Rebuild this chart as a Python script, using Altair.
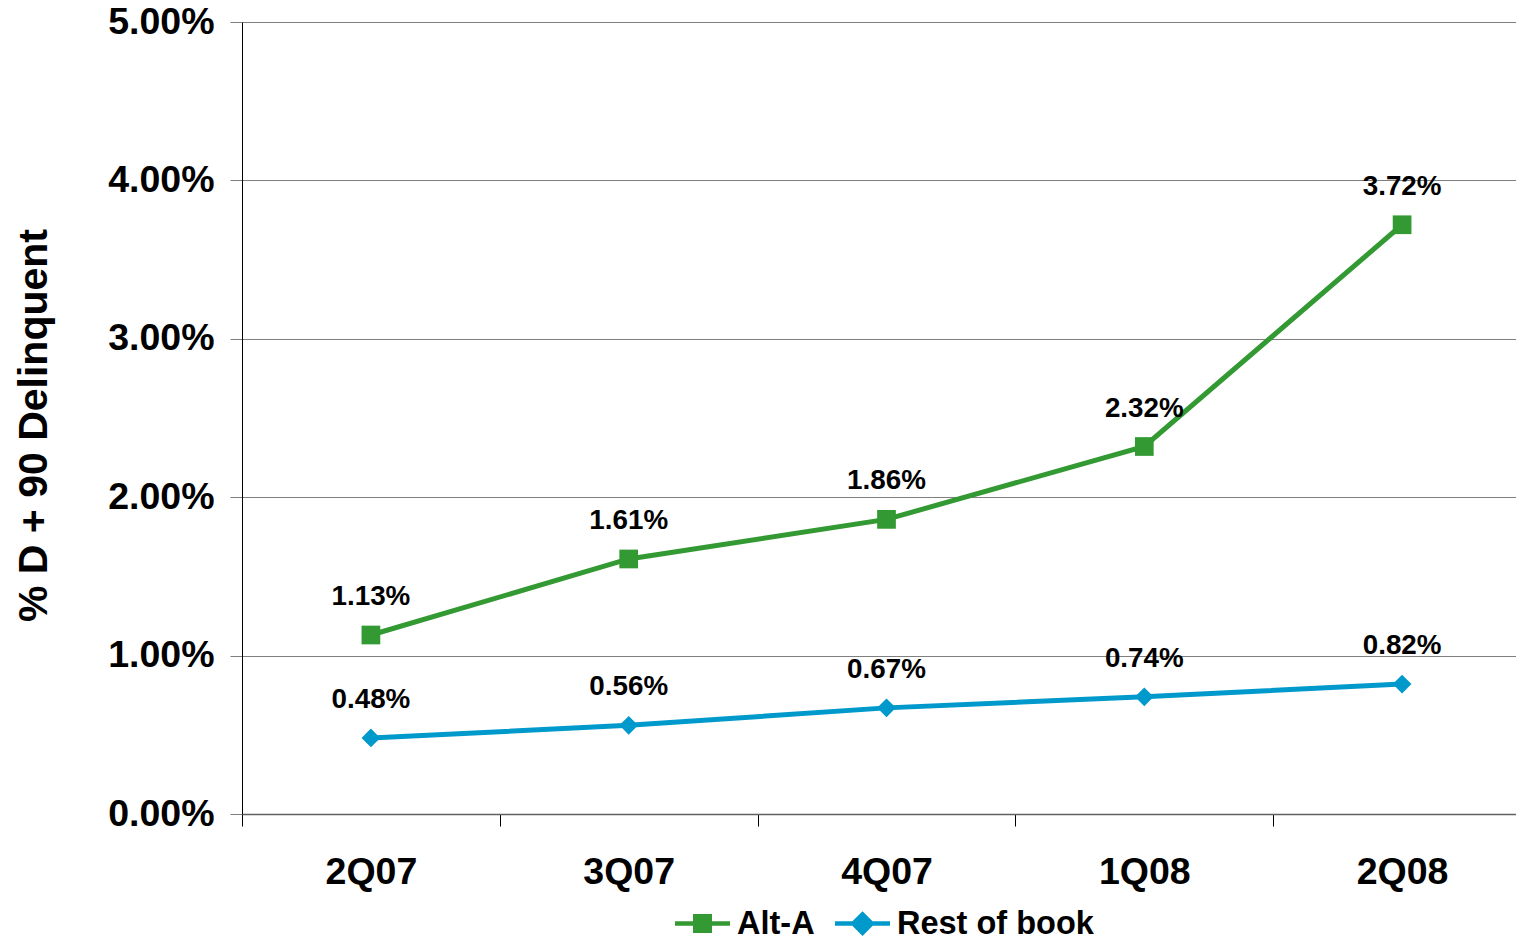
import altair as alt
import pandas as pd

quarters = ["2Q07", "3Q07", "4Q07", "1Q08", "2Q08"]
series_names = ["Alt-A", "Rest of book"]
alt_a = [0.0113, 0.0161, 0.0186, 0.0232, 0.0372]
rest_of_book = [0.0048, 0.0056, 0.0067, 0.0074, 0.0082]
y_ticks = [0.0, 0.01, 0.02, 0.03, 0.04, 0.05]
colors = ["#339933", "#0099cc"]

rows = []
for s, vals in zip(series_names, [alt_a, rest_of_book]):
    for q, v in zip(quarters, vals):
        rows.append({"quarter": q, "series": s, "value": v})
df = pd.DataFrame(rows)

FONT = "Liberation Sans"

x_enc = alt.X(
    "quarter:N",
    sort=quarters,
    bandPosition=0.5,
    scale=alt.Scale(type="band", paddingInner=0, paddingOuter=0, range=[0, 1289]),
    axis=alt.Axis(
        title=None,
        tickBand="extent",
        labelAngle=0,
        labelFont=FONT,
        labelFontSize=37.5,
        labelFontWeight="bold",
        labelColor="black",
        labelPadding=27,
        tickSize=12,
        tickColor="black",
        tickWidth=1,
        domainColor="#606060",
        domainWidth=1.5,
        grid=False,
    ),
)

y_enc = alt.Y(
    "value:Q",
    scale=alt.Scale(domain=[0, 0.05], nice=False, zero=True),
    axis=alt.Axis(
        values=y_ticks,
        format=".2%",
        title="% D + 90 Delinquent",
        titleFont=FONT,
        titleFontSize=41,
        titleFontWeight="bold",
        titleColor="black",
        titleAngle=270,
        titleAlign="center",
        titleBaseline="middle",
        titleX=-208,
        titleY=403,
        labelFont=FONT,
        labelFontSize=37.5,
        labelFontWeight="bold",
        labelColor="black",
        labelPadding=16,
        tickSize=12,
        tickColor="#7f7f7f",
        domainColor="black",
        domainWidth=1,
        grid=True,
        gridColor="#7f7f7f",
        gridWidth=1,
    ),
)

color_scale = alt.Scale(domain=series_names, range=colors)

lines = alt.Chart(df).mark_line(strokeWidth=5).encode(
    x=x_enc,
    y=y_enc,
    color=alt.Color("series:N", scale=color_scale, legend=None),
    detail="series:N",
)

markers = alt.Chart(df).mark_point(filled=True, opacity=1, size=350).encode(
    x=x_enc,
    y=y_enc,
    color=alt.Color("series:N", scale=color_scale, legend=None),
    shape=alt.Shape(
        "series:N",
        scale=alt.Scale(domain=series_names, range=["square", "diamond"]),
        legend=None,
    ),
)

labels = alt.Chart(df).mark_text(
    font=FONT, fontSize=27.8, fontWeight="bold", color="black", dy=-38, baseline="middle"
).encode(
    x=x_enc,
    y=y_enc,
    text=alt.Text("value:Q", format=".2%"),
)

sq_path = "M-1,-0.085H1V0.085H-1Z M-0.345,-0.345H0.345V0.345H-0.345Z"
dm_path = "M-1,-0.085H1V0.085H-1Z M0,-0.45L0.45,0L0,0.45L-0.45,0Z"

legend_props = dict(
    title=None,
    orient="none",
    legendX=433,
    legendY=874,
    direction="horizontal",
    labelFont=FONT,
    labelFontSize=32.5,
    labelFontWeight="bold",
    labelColor="black",
    labelLimit=0,
    symbolSize=3025,
    symbolStrokeWidth=0,
    symbolOpacity=1,
    labelOffset=7,
    columnPadding=20,
)

legend_layer = alt.Chart(df).mark_point(filled=True, opacity=0).encode(
    x=x_enc,
    y=y_enc,
    color=alt.Color("series:N", scale=color_scale, legend=alt.Legend(**legend_props)),
    shape=alt.Shape(
        "series:N",
        scale=alt.Scale(domain=series_names, range=[sq_path, dm_path]),
        legend=alt.Legend(**legend_props),
    ),
)

chart = (
    alt.layer(lines, markers, labels, legend_layer)
    .resolve_scale(color="independent", shape="independent")
    .properties(
        width=1274,
        height=792,
        autosize=alt.AutoSizeParams(type="none"),
        padding={"left": 242, "top": 22, "right": 0, "bottom": 126},
        background="white",
    )
    .configure_view(stroke=None)
)

chart.save("out.html", embed_options={"renderer": "svg", "actions": False})
